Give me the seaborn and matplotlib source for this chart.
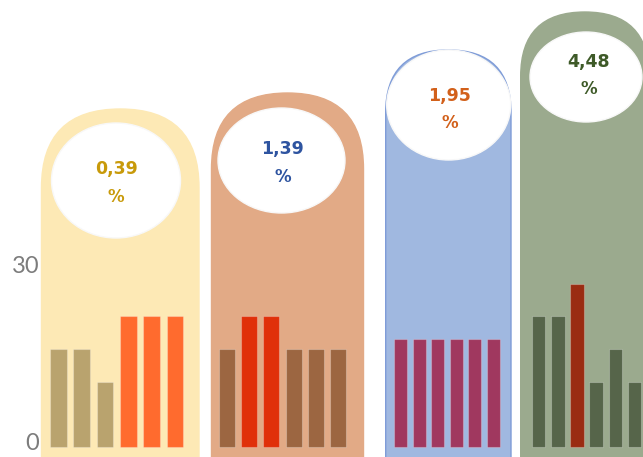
import matplotlib
matplotlib.use("Agg")
import matplotlib.pyplot as plt
import matplotlib.transforms as mtransforms
from matplotlib.patches import FancyBboxPatch, Ellipse
import seaborn as sns
import pandas as pd

# ---------------- data ----------------
panel_values = [
    [16.3, 16.3, 10.8, 21.9, 21.9, 21.9],
    [16.3, 21.9, 21.9, 16.3, 16.3, 16.3],
    [18.0, 18.0, 18.0, 18.0, 18.0, 18.0],
    [21.9, 21.9, 27.2, 10.8, 16.3, 10.8],
]
panel_bar_colors = [
    ["#B9A36E", "#B9A36E", "#B9A36E", "#FF6B2E", "#FF6B2E", "#FF6B2E"],
    ["#9C6641", "#E0300A", "#E0300A", "#9C6641", "#9C6641", "#9C6641"],
    ["#A0385F", "#A0385F", "#A0385F", "#A0385F", "#A0385F", "#A0385F"],
    ["#56654A", "#56654A", "#9A2C12", "#56654A", "#56654A", "#56654A"],
]
pct_labels = ["0,39", "1,39", "1,95", "4,48"]
pct_colors = ["#C89A0A", "#2E54A0", "#D2601A", "#3E5A28"]
bg_colors = ["#FDE9B5", "#E2AA86", "#A0B8E0", "#9BAA8E"]
y_ticks = [0, 30]
y_tick_labels = ["0", "30"]

# ---------------- layout (pixels) ----------------
W, H = 643, 457
sns.set_style("white")
fig = plt.figure(figsize=(W / 100, H / 100), dpi=100)

ax_bg = fig.add_axes([0, 0, 1, 1])
ax_bg.set_xlim(0, W)
ax_bg.set_ylim(H, 0)
ax_bg.axis("off")

# background stadium shapes: (left, right, top)
bg_geom = [(41.5, 199, 109), (211.5, 363.5, 93), (385.7, 511, 50), (520.7, 649, 12)]
for (l, r, t), c in zip(bg_geom, bg_colors):
    w = r - l
    ec = "#7F9CD8" if c == "#A0B8E0" else c
    p = FancyBboxPatch((l, t), w, H + w - t, boxstyle=f"round,pad=0,rounding_size={w/2}",
                       facecolor=c, edgecolor=ec, linewidth=1.0, zorder=1)
    ax_bg.add_patch(p)

# white ellipses: (cx, cy, w, h)
ell_geom = [(116, 180.5, 129, 115), (281.5, 160.5, 127, 105), (448.7, 105, 124, 110), (586, 77, 112, 90)]
for (cx, cy, ew, eh) in ell_geom:
    ax_bg.add_patch(Ellipse((cx, cy), ew, eh, facecolor="white", edgecolor="#F8F8F8",
                            linewidth=1.0, zorder=2))

# percentage texts: (x, y number, y percent)
txt_geom = [(116, 169, 197.5), (282.5, 149, 177.5), (449.7, 95.5, 123), (589, 62, 89.5)]
for (tx, ty, tp), lab, col in zip(txt_geom, pct_labels, pct_colors):
    ax_bg.text(tx, ty, lab, ha="center", va="center", color=col, fontsize=12.5,
               fontweight="bold", family="DejaVu Sans", zorder=3)
    ax_bg.text(tx, tp, "%", ha="center", va="center", color=col, fontsize=12,
               fontweight="bold", family="DejaVu Sans", zorder=3)

# bar axes: (left px, right px, bar width fraction)
bar_geom = [(46.7, 186.7, 0.714), (215.5, 349.5, 0.73), (391.4, 502.4, 0.70), (529.1, 644.1, 0.71)]
y0_px = 447
px_per_unit = 6.0
for i, ((l, r, bw), vals, cols) in enumerate(zip(bar_geom, panel_values, panel_bar_colors)):
    ax = fig.add_axes([l / W, (H - y0_px) / H, (r - l) / W, 30 * px_per_unit / H])
    ax.set_facecolor("none")
    df = pd.DataFrame({"cat": [str(k) for k in range(len(vals))], "val": vals})
    sns.barplot(data=df, x="cat", y="val", hue="cat", palette=cols, width=bw,
                saturation=1, legend=False, ax=ax, linewidth=0.8, edgecolor=(1, 1, 1, 0.25))
    ax.set_xlim(-0.5, len(vals) - 0.5)
    ax.set_ylim(0, 30)
    ax.set_xlabel("")
    ax.set_ylabel("")
    ax.set_xticks([])
    for s in ax.spines.values():
        s.set_visible(False)
    for bar in ax.patches:
        bar.set_clip_on(False)
    if i == 0:
        ax.set_yticks(y_ticks)
        ax.set_yticklabels(y_tick_labels)
        ax.tick_params(axis="y", length=0, pad=5.5, labelsize=17, labelcolor="#7C7C7C")
        for t in ax.get_yticklabels():
            t.set_family("Lato")
            t.set_fontweight("normal")
        lbl0 = ax.get_yticklabels()[0]
        lbl0.set_transform(lbl0.get_transform() + mtransforms.ScaledTranslation(0, 4 / 72, fig.dpi_scale_trans))
        lbl1 = ax.get_yticklabels()[1]
        lbl1.set_transform(lbl1.get_transform() + mtransforms.ScaledTranslation(0, 1.5 / 72, fig.dpi_scale_trans))
    else:
        ax.set_yticks([])

fig.savefig("out.png", dpi=100)
